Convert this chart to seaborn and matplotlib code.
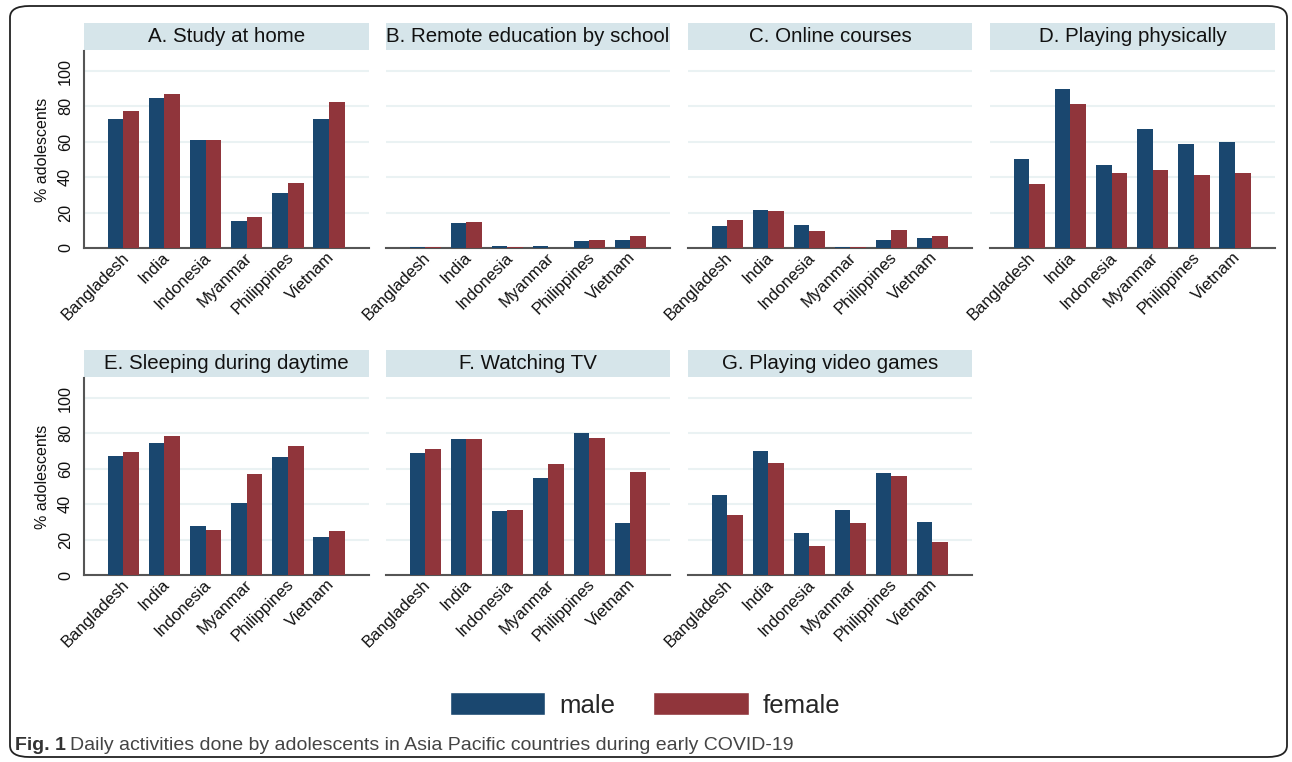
import pandas as pd
import matplotlib
matplotlib.use("Agg")
import matplotlib.pyplot as plt
import matplotlib.transforms as mtransforms
from matplotlib.patches import Rectangle, FancyBboxPatch, Patch
import seaborn as sns

countries = ["Bangladesh", "India", "Indonesia", "Myanmar", "Philippines", "Vietnam"]
panels = ["A. Study at home", "B. Remote education by school", "C. Online courses",
          "D. Playing physically", "E. Sleeping during daytime", "F. Watching TV",
          "G. Playing video games"]

male_A = [72.8, 84.7, 61.0, 15.1, 30.9, 72.8]
female_A = [77.4, 87.0, 61.0, 17.4, 36.6, 82.5]
male_B = [0.8, 14.0, 1.0, 1.0, 3.8, 4.3]
female_B = [0.8, 14.5, 0.7, 0.1, 4.3, 6.6]
male_C = [12.3, 21.3, 12.8, 0.6, 4.3, 5.5]
female_C = [15.7, 20.8, 9.4, 0.6, 10.0, 6.6]
male_D = [50.2, 89.8, 46.8, 67.2, 58.7, 59.8]
female_D = [36.0, 81.3, 42.3, 44.0, 41.1, 42.3]
male_E = [67.4, 74.3, 27.7, 40.8, 66.8, 21.5]
female_E = [69.6, 78.7, 25.5, 57.2, 73.0, 25.1]
male_F = [69.1, 77.0, 36.2, 54.9, 80.4, 29.4]
female_F = [71.3, 76.8, 36.8, 62.5, 77.5, 58.3]
male_G = [45.3, 70.2, 23.8, 37.0, 57.9, 30.0]
female_G = [34.0, 63.4, 16.4, 29.4, 56.0, 18.9]

males = [male_A, male_B, male_C, male_D, male_E, male_F, male_G]
females = [female_A, female_B, female_C, female_D, female_E, female_F, female_G]

rows = []
for p, m, f in zip(panels, males, females):
    for c, mv, fv in zip(countries, m, f):
        rows.append({"panel": p, "country": c, "sex": "male", "pct": mv})
        rows.append({"panel": p, "country": c, "sex": "female", "pct": fv})
df = pd.DataFrame(rows)

MALE = "#1a476f"
FEMALE = "#90353b"
STRIP = "#d6e5ea"
GRID = "#eaf2f3"
SPINE = "#555555"

sns.set_style("white")
plt.rcParams["font.family"] = ["Liberation Sans", "DejaVu Sans"]

W, H = 1292, 762
fig = plt.figure(figsize=(W / 100, H / 100), dpi=100)

col_x = [(84, 369), (386, 670), (688, 972), (990, 1275)]
row_y = [(51, 248), (378, 575)]
shift = mtransforms.ScaledTranslation(3 / 100, -3 / 100, fig.dpi_scale_trans)

for i, p in enumerate(panels):
    r, c = divmod(i, 4)
    l, rr = col_x[c]
    t, b = row_y[r]
    ax = fig.add_axes([l / W, 1 - b / H, (rr - l) / W, (b - t) / H])
    sub = df[df["panel"] == p]
    sns.barplot(data=sub, x="country", y="pct", hue="sex", order=countries,
                hue_order=["male", "female"], palette=[MALE, FEMALE],
                width=0.76, errorbar=None, saturation=1, legend=False,
                linewidth=0, ax=ax)
    for bar in ax.patches:
        bar.set_zorder(3)
    ax.set_xlim(-0.956, 5.97)
    ax.set_ylim(0, 111.3)
    ax.set_yticks([0, 20, 40, 60, 80, 100])
    ax.yaxis.grid(True, color=GRID, linewidth=1.5)
    ax.set_axisbelow(True)
    for s in ["top", "right"]:
        ax.spines[s].set_visible(False)
    ax.spines["bottom"].set_color(SPINE)
    ax.spines["bottom"].set_linewidth(1.5)
    ax.spines["bottom"].set_zorder(2)
    ax.set_xlabel("")
    ax.tick_params(axis="x", length=0, pad=3)
    ax.set_xticks(range(len(countries)))
    ax.set_xticklabels(countries, rotation=45, ha="right", va="center",
                       rotation_mode="anchor", fontsize=12, color="#111111")
    for lab in ax.get_xticklabels():
        lab.set_transform(lab.get_transform() + shift)
    if c == 0:
        ax.spines["left"].set_color(SPINE)
        ax.spines["left"].set_linewidth(1.5)
        ax.tick_params(axis="y", length=5, width=1.2, color=SPINE, pad=3,
                       labelsize=11.7, labelcolor="#111111")
        for lab in ax.get_yticklabels():
            lab.set_rotation(90)
            lab.set_va("center")
        ax.set_ylabel("% adolescents", fontsize=11.5, color="#111111", labelpad=6)
    else:
        ax.spines["left"].set_visible(False)
        ax.tick_params(axis="y", length=0, labelleft=False)
        ax.set_ylabel("")
    strip_h = 27 / (b - t)
    ax.add_patch(Rectangle((0, 1.006), 1, strip_h, transform=ax.transAxes,
                           facecolor=STRIP, edgecolor="none", clip_on=False))
    ax.text(0.5, 1.006 + strip_h / 2, p, transform=ax.transAxes, ha="center",
            va="center", fontsize=14.8, color="#111111")

handles = [Patch(facecolor=MALE), Patch(facecolor=FEMALE)]
fig.legend(handles, ["male", "female"], loc="center", bbox_to_anchor=(645 / W, 1 - 705 / H),
           ncol=2, frameon=False, fontsize=18.5, handlelength=3.7, handleheight=1.0,
           handletextpad=0.55, columnspacing=1.5)

fig.patches.append(FancyBboxPatch((10 / W, 1 - 757 / H), 1277 / W, 751 / H,
                                  boxstyle="round,pad=0,rounding_size=0.015",
                                  transform=fig.transFigure, facecolor="none",
                                  edgecolor="#222222", linewidth=1.3))
fig.text(15 / W, 1 - 745 / H, "Fig. 1", fontsize=14, fontweight="bold",
         color="#333333", va="center")
fig.text(70 / W, 1 - 745 / H,
         "Daily activities done by adolescents in Asia Pacific countries during early COVID-19",
         fontsize=14, color="#444444", va="center")

fig.savefig("out.png", dpi=100)
